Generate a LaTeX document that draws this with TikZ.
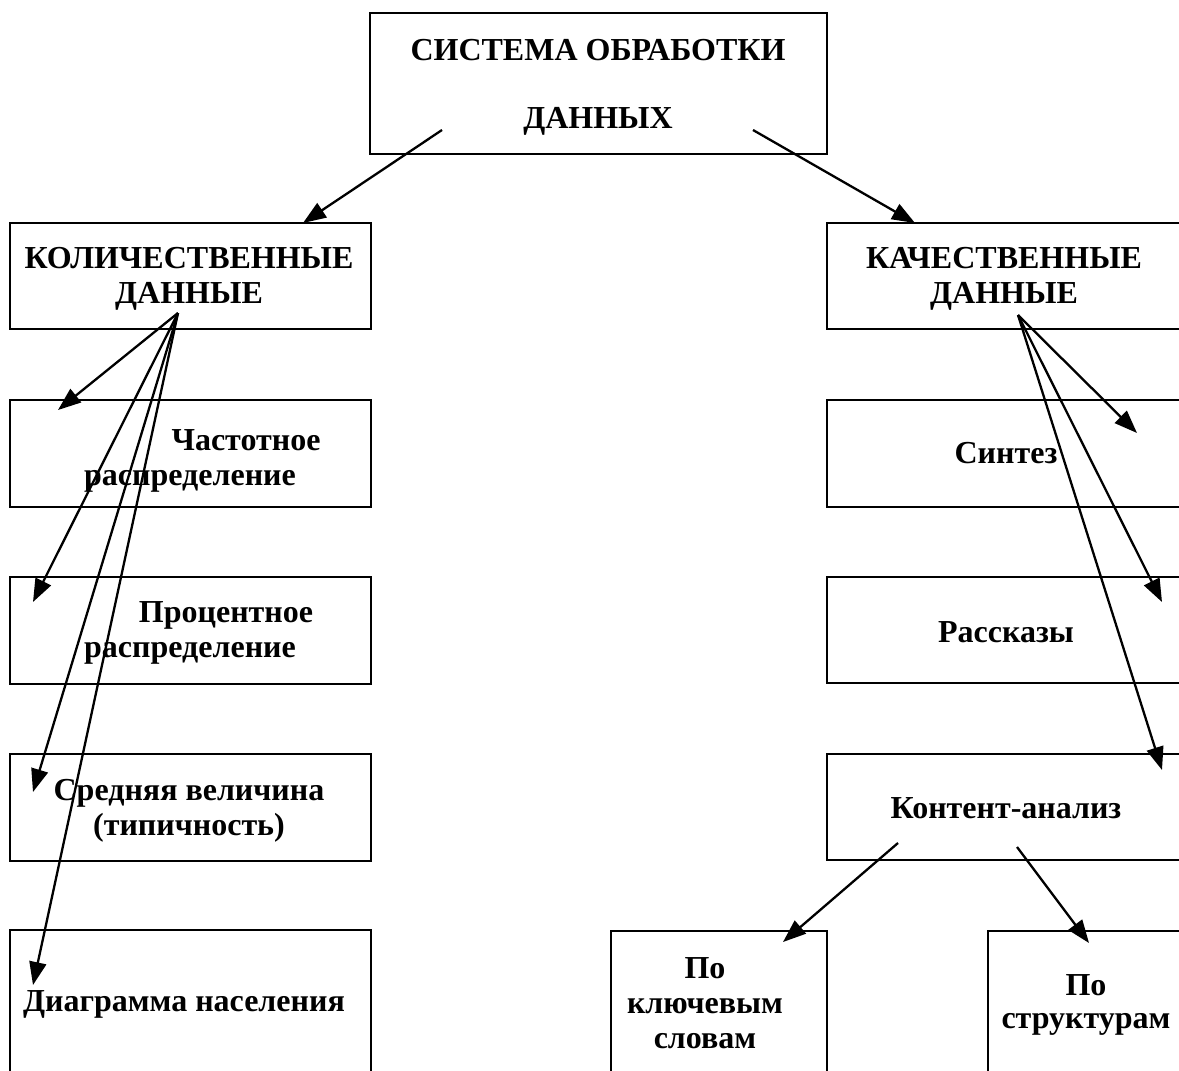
\documentclass[tikz,border=0pt]{standalone}
\usepackage{fontspec}
\setmainfont{Liberation Serif}
\usetikzlibrary{arrows.meta}
\tikzset{
  box/.style={draw, line width=2.4pt, inner sep=0pt, anchor=north west, fill=none},
  lbl/.style={anchor=base, inner sep=0pt, font=\fontsize{32}{35}\selectfont\bfseries},
  arr/.style={line width=2.3pt, -{Triangle[length=23pt, width=17pt]}}
}
\begin{document}
\begin{tikzpicture}[x=1pt, y=-1pt]
\useasboundingbox (0,0) rectangle (1179,1071);
\clip (0,0) rectangle (1179,1071);
\fill[white] (0,0) rectangle (1179,1071);

% boxes
\node[box, minimum width=457pt, minimum height=141pt] (top) at (369,12) {};
\node[box, minimum width=361pt, minimum height=106pt] (kol) at (9,222) {};
\node[box, minimum width=380pt, minimum height=106pt] (kach) at (826,222) {};
\node[box, minimum width=361pt, minimum height=107pt] (chast) at (9,399) {};
\node[box, minimum width=361pt, minimum height=107pt] (proc) at (9,576) {};
\node[box, minimum width=361pt, minimum height=107pt] (sred) at (9,753) {};
\node[box, minimum width=361pt, minimum height=170pt] (diag) at (9,929) {};
\node[box, minimum width=380pt, minimum height=107pt] (sint) at (826,399) {};
\node[box, minimum width=380pt, minimum height=106pt] (rass) at (826,576) {};
\node[box, minimum width=380pt, minimum height=106pt] (kont) at (826,753) {};
\node[box, minimum width=216pt, minimum height=170pt] (klyuch) at (610,930) {};
\node[box, minimum width=220pt, minimum height=170pt] (strukt) at (987,930) {};

% texts
\node[lbl] (t1a) at (598,60) {СИСТЕМА ОБРАБОТКИ};
\node[lbl] (t1b) at (598,128) {ДАННЫХ};
\node[lbl] (t2a) at (189,268) {КОЛИЧЕСТВЕННЫЕ};
\node[lbl] (t2b) at (189,303) {ДАННЫЕ};
\node[lbl] (t3a) at (1004,268) {КАЧЕСТВЕННЫЕ};
\node[lbl] (t3b) at (1004,303) {ДАННЫЕ};
\node[lbl] (t4a) at (246,450) {Частотное};
\node[lbl] (t4b) at (190,485) {распределение};
\node[lbl] (t5a) at (226,622) {Процентное};
\node[lbl] (t5b) at (190,657) {распределение};
\node[lbl] (t6a) at (189,800) {Средняя величина};
\node[lbl] (t6b) at (189,835) {(типичность)};
\node[lbl] (t7) at (184,1011) {Диаграмма населения};
\node[lbl] (t8) at (1006,463) {Синтез};
\node[lbl] (t9) at (1006,642) {Рассказы};
\node[lbl] (t10) at (1006,818) {Контент-анализ};
\node[lbl] (t11a) at (705,978) {По};
\node[lbl] (t11b) at (705,1013) {ключевым};
\node[lbl] (t11c) at (705,1048) {словам};
\node[lbl] (t12a) at (1086,995) {По};
\node[lbl] (t12b) at (1086,1028) {структурам};

% connector end points
\coordinate (topL) at (442,130);
\coordinate (topR) at (753,130);
\coordinate (kolIn) at (303,223);
\coordinate (kachIn) at (915,223);
\coordinate (kolS) at (178,313);
\coordinate (chastIn) at (58,410);
\coordinate (procIn) at (33,602);
\coordinate (sredIn) at (33,792);
\coordinate (diagIn) at (33,985);
\coordinate (kachS) at (1018,315);
\coordinate (sintIn) at (1137,433);
\coordinate (rassIn) at (1162,602);
\coordinate (kontIn) at (1162,770);
\coordinate (kontL) at (898,843);
\coordinate (kontR) at (1017,847);
\coordinate (klyuchIn) at (783,942);
\coordinate (struktIn) at (1089,943);

% connectors
\draw[arr] (topL) -- (kolIn);
\draw[arr] (topR) -- (kachIn);
\draw[arr] (kolS) -- (chastIn);
\draw[arr] (kolS) -- (procIn);
\draw[arr] (kolS) -- (sredIn);
\draw[arr] (kolS) -- (diagIn);
\draw[arr] (kachS) -- (sintIn);
\draw[arr] (kachS) -- (rassIn);
\draw[arr] (kachS) -- (kontIn);
\draw[arr] (kontL) -- (klyuchIn);
\draw[arr] (kontR) -- (struktIn);
\end{tikzpicture}
\end{document}
